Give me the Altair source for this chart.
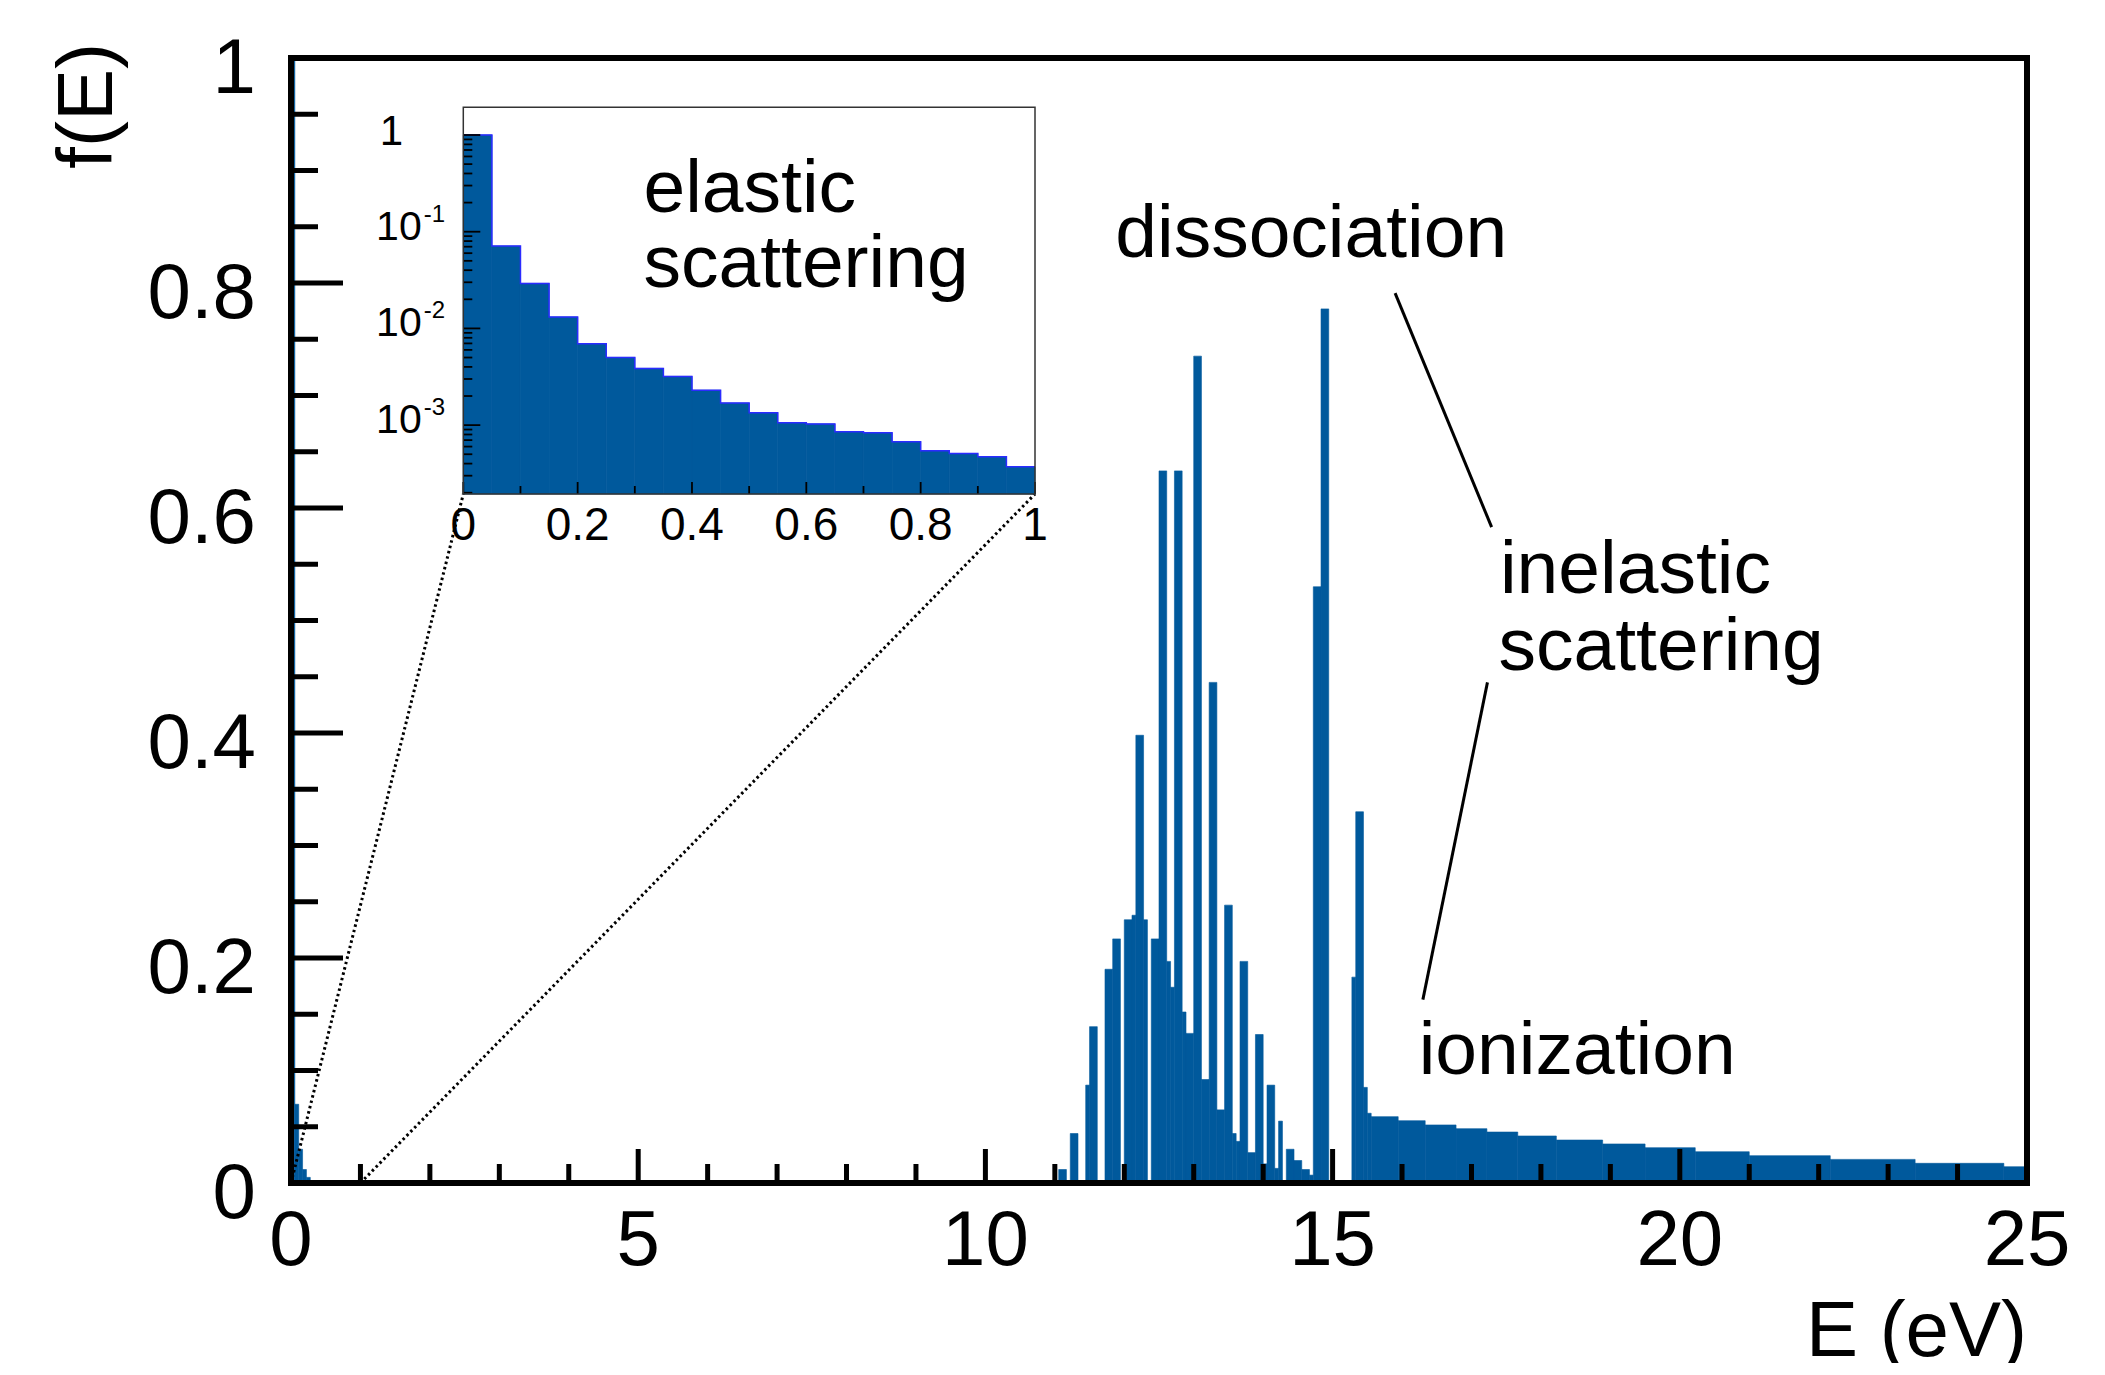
import altair as alt
import pandas as pd

BLUE = "#00599c"
STEP_BLUE = "#2b2bff"
FONT = "Liberation Sans"

# ---------------- data ----------------
# main histogram: 0-25 eV in 450 bins; runs of bins with equal value
N_BINS = 450
E_MAX = 25.0
seg_first_bin = [0, 1, 2, 3, 4, 5, 199, 202, 206, 207,
                 211, 213, 216, 218, 219, 221, 223, 225, 227, 228,
                 229, 231, 232, 234, 236, 238, 240, 242, 244, 245,
                 246, 248, 250, 252, 253, 255, 256, 258, 260, 262,
                 264, 265, 267, 275, 276, 278, 279, 280, 287, 294,
                 302, 310, 318, 328, 340, 351, 364, 378, 399, 421,
                 444]
seg_last_bin = [1, 2, 3, 4, 5, 8, 201, 204, 207, 209,
                213, 215, 218, 219, 221, 222, 225, 227, 228, 229,
                231, 232, 234, 236, 238, 240, 242, 244, 245, 246,
                248, 250, 252, 253, 255, 256, 257, 260, 262, 264,
                265, 267, 269, 276, 278, 279, 280, 287, 294, 302,
                310, 318, 328, 340, 351, 364, 378, 399, 421, 444,
                450]
seg_f = [1.0, 0.07, 0.03, 0.012, 0.005, 0.002, 0.012, 0.044, 0.087, 0.139,
         0.19, 0.217, 0.234, 0.238, 0.398, 0.234, 0.217, 0.633, 0.197, 0.174,
         0.633, 0.152, 0.133, 0.735, 0.092, 0.445, 0.065, 0.247, 0.044, 0.037,
         0.197, 0.027, 0.132, 0.017, 0.087, 0.013, 0.055, 0.030, 0.020, 0.012,
         0.007, 0.530, 0.777, 0.183, 0.33, 0.085, 0.062, 0.059, 0.0554, 0.0516,
         0.0483, 0.0453, 0.0418, 0.0382, 0.0347, 0.0314, 0.0278, 0.0243, 0.021, 0.0175,
         0.0145]

# inset histogram (0-1 eV, log scale)
inset_edges = [0.00, 0.05, 0.10, 0.15, 0.20, 0.25, 0.30, 0.35, 0.40, 0.45, 0.50,
               0.55, 0.60, 0.65, 0.70, 0.75, 0.80, 0.85, 0.90, 0.95, 1.00]
inset_f = [1.0, 0.071, 0.0292, 0.0131, 0.00693, 0.00501, 0.00386, 0.00319, 0.00229, 0.00169,
           0.00134, 0.00106, 0.00103, 0.000853, 0.000834, 0.000673, 0.000543, 0.000509, 0.00047, 0.000371]

# axis ticks / labels
x_major = [0, 5, 10, 15, 20, 25]
x_labels = ["0", "5", "10", "15", "20", "25"]
x_minor = [1, 2, 3, 4, 6, 7, 8, 9, 11, 12, 13, 14, 16, 17, 18, 19, 21, 22, 23, 24]
y_major = [0, 0.2, 0.4, 0.6, 0.8, 1.0]
y_labels = ["0", "0.2", "0.4", "0.6", "0.8", "1"]
y_minor = [0.05, 0.1, 0.15, 0.25, 0.3, 0.35, 0.45, 0.5, 0.55, 0.65, 0.7, 0.75, 0.85, 0.9, 0.95]
ix_major = [0, 0.2, 0.4, 0.6, 0.8, 1.0]
ix_labels = ["0", "0.2", "0.4", "0.6", "0.8", "1"]
ix_minor = [0.1, 0.3, 0.5, 0.7, 0.9]
iy_major = [1.0, 0.1, 0.01, 0.001]
iy_minor = [m * d for d in [1e-4, 1e-3, 1e-2, 1e-1] for m in range(2, 10)]
iy_exp_vals = [0.1, 0.01, 0.001]
iy_exp_text = ["-1", "-2", "-3"]

# annotations (main-plot data coordinates)
ann_text = ["dissociation", "inelastic", "scattering", "ionization"]
ann_E = [11.87, 17.41, 17.39, 16.24]
ann_f = [0.8234, 0.5242, 0.456, 0.0969]
lead_E1 = [15.90, 17.23]
lead_f1 = [0.791, 0.445]
lead_E2 = [17.29, 16.30]
lead_f2 = [0.583, 0.163]

# ---------------- layout ----------------
W, H = 1736, 1125
IX0, IX1 = 172.3, 744.0
IY_TOP, IY_BOT = 49.3, 436.0
INSET_YMIN, INSET_YMAX = 1.94e-4, 1.934

xm = alt.Scale(domain=[0, 25], nice=False, zero=False)
ym = alt.Scale(domain=[0, 1], nice=False, zero=False)
xi = alt.Scale(domain=[0, 1], range=[IX0, IX1], nice=False, zero=False)
yi = alt.Scale(type="log", domain=[INSET_YMIN, INSET_YMAX], range=[IY_BOT, IY_TOP], nice=False)

one = pd.DataFrame({"k": [0]})

main_df = pd.DataFrame({
    "lo": [b * E_MAX / N_BINS for b in seg_first_bin],
    "hi": [b * E_MAX / N_BINS for b in seg_last_bin],
    "f": seg_f,
})

bars = alt.Chart(main_df).mark_rect(fill=BLUE, stroke=BLUE, strokeWidth=0.6).encode(
    x=alt.X("lo:Q", scale=xm, axis=None),
    x2="hi:Q",
    y=alt.Y("f:Q", scale=ym, axis=None),
    y2=alt.datum(0),
)


def yticks(vals, length, scale, x0, width, color="black"):
    return alt.Chart(pd.DataFrame({"v": vals})).mark_rule(color=color, strokeWidth=width).encode(
        y=alt.Y("v:Q", scale=scale, axis=None), x=alt.value(x0), x2=alt.value(x0 + length))


def xticks(vals, length, scale, y0, width, color="black"):
    return alt.Chart(pd.DataFrame({"v": vals})).mark_rule(color=color, strokeWidth=width).encode(
        x=alt.X("v:Q", scale=scale, axis=None), y=alt.value(y0), y2=alt.value(y0 - length))


xlab_df = pd.DataFrame({"v": x_major, "t": x_labels})
xlabels = alt.Chart(xlab_df).mark_text(font=FONT, fontSize=78, align="center",
                                       baseline="alphabetic", color="black").encode(
    x=alt.X("v:Q", scale=xm, axis=None), y=alt.value(H + 82), text="t:N")
ylab_df = pd.DataFrame({"v": y_major, "t": y_labels})
ylabels = alt.Chart(ylab_df).mark_text(font=FONT, fontSize=78, align="right", dy=35,
                                       baseline="alphabetic", color="black").encode(
    y=alt.Y("v:Q", scale=ym, axis=None), x=alt.value(-35), text="t:N")

frame = alt.Chart(one).mark_rect(fill="transparent", stroke="black", strokeWidth=6).encode(
    x=alt.value(0), x2=alt.value(W), y=alt.value(0), y2=alt.value(H))

corner_f = 1 - IY_BOT / H
zoom_df = pd.DataFrame({"E1": [0.0, 1.0], "f1": [0.0, 0.0],
                        "E2": [IX0 / W * 25, IX1 / W * 25], "f2": [corner_f, corner_f]})
zoom_lines = alt.Chart(zoom_df).mark_rule(color="black", strokeWidth=3, strokeDash=[2.5, 3]).encode(
    x=alt.X("E1:Q", scale=xm, axis=None), y=alt.Y("f1:Q", scale=ym, axis=None),
    x2="E2:Q", y2="f2:Q")

lead_df = pd.DataFrame({"E1": lead_E1, "f1": lead_f1, "E2": lead_E2, "f2": lead_f2})
leaders = alt.Chart(lead_df).mark_rule(color="black", strokeWidth=3).encode(
    x=alt.X("E1:Q", scale=xm, axis=None), y=alt.Y("f1:Q", scale=ym, axis=None),
    x2="E2:Q", y2="f2:Q")

ann_df = pd.DataFrame({"t": ann_text, "E": ann_E, "f": ann_f})
annotations = alt.Chart(ann_df).mark_text(font=FONT, fontSize=75, align="left",
                                          baseline="alphabetic", color="black").encode(
    x=alt.X("E:Q", scale=xm, axis=None), y=alt.Y("f:Q", scale=ym, axis=None), text="t:N")

ytitle = alt.Chart(one).mark_text(text="f(E)", font=FONT, fontSize=78, angle=270, align="right",
                                  baseline="alphabetic", color="black").encode(
    x=alt.value(-179.4), y=alt.value(-15))
xtitle = alt.Chart(one).mark_text(text="E (eV)", font=FONT, fontSize=78, align="right",
                                  baseline="alphabetic", color="black").encode(
    x=alt.value(W), y=alt.value(1298))

main = alt.layer(
    bars, zoom_lines,
    yticks(y_major, 52, ym, 0, 5), yticks(y_minor, 27, ym, 0, 5),
    xticks(x_major, 34, xm, H, 5), xticks(x_minor, 19, xm, H, 5),
    frame, xlabels, ylabels, leaders, annotations, ytitle, xtitle,
)

# ---------------- inset ----------------
inset_df = pd.DataFrame({"lo": inset_edges[:-1], "hi": inset_edges[1:], "v": inset_f})
step_df = pd.DataFrame({"x": inset_edges, "v": inset_f + [inset_f[-1]]})

inset_bg = alt.Chart(one).mark_rect(fill="white").encode(
    x=alt.value(IX0), x2=alt.value(IX1), y=alt.value(IY_TOP), y2=alt.value(IY_BOT))
inset_bars = alt.Chart(inset_df).mark_rect(fill=BLUE, stroke=BLUE, strokeWidth=0.7).encode(
    x=alt.X("lo:Q", scale=xi, axis=None), x2="hi:Q",
    y=alt.Y("v:Q", scale=yi, axis=None), y2=alt.value(IY_BOT))
inset_step = alt.Chart(step_df).mark_line(interpolate="step-after", color=STEP_BLUE, strokeWidth=1.5).encode(
    x=alt.X("x:Q", scale=xi, axis=None), y=alt.Y("v:Q", scale=yi, axis=None))
inset_frame = alt.Chart(one).mark_rect(fill="transparent", stroke="#333333", strokeWidth=1.5).encode(
    x=alt.value(IX0), x2=alt.value(IX1), y=alt.value(IY_TOP), y2=alt.value(IY_BOT))

ixl_df = pd.DataFrame({"v": ix_major, "t": ix_labels})
inset_xlabels = alt.Chart(ixl_df).mark_text(font=FONT, fontSize=46, align="center",
                                            baseline="alphabetic", color="black").encode(
    x=alt.X("v:Q", scale=xi, axis=None), y=alt.value(IY_BOT + 46), text="t:N")

iy1_df = pd.DataFrame({"v": [1.0], "t": ["1"]})
inset_ylabel1 = alt.Chart(iy1_df).mark_text(font=FONT, fontSize=42, align="right", dy=10,
                                            baseline="alphabetic", color="black").encode(
    x=alt.value(112), y=alt.Y("v:Q", scale=yi, axis=None), text="t:N")
iy10_df = pd.DataFrame({"v": iy_exp_vals, "t": ["10"] * len(iy_exp_vals), "e": iy_exp_text})
inset_ylabel10 = alt.Chart(iy10_df).mark_text(font=FONT, fontSize=41, align="right", dy=8,
                                              baseline="alphabetic", color="black").encode(
    x=alt.value(130.7), y=alt.Y("v:Q", scale=yi, axis=None), text="t:N")
inset_yexp = alt.Chart(iy10_df).mark_text(font=FONT, fontSize=24, align="right", dy=-10,
                                          baseline="alphabetic", color="black").encode(
    x=alt.value(154), y=alt.Y("v:Q", scale=yi, axis=None), text="e:N")

el_df = pd.DataFrame({"t": ["elastic", "scattering"], "py": [153.7, 228.7]})
inset_ann = alt.Chart(el_df).mark_text(font=FONT, fontSize=75, align="left",
                                       baseline="alphabetic", color="black").encode(
    x=alt.value(352.5), y=alt.Y("py:Q", scale=None, axis=None), text="t:N")

inset = alt.layer(
    inset_bg, inset_bars, inset_step,
    xticks(ix_major, 12, xi, IY_BOT, 1.8), xticks(ix_minor, 8, xi, IY_BOT, 1.8),
    yticks(iy_major, 17, yi, IX0, 1.8), yticks(iy_minor, 9, yi, IX0, 1.8),
    inset_frame, inset_xlabels, inset_ylabel1, inset_ylabel10, inset_yexp, inset_ann,
)

chart = alt.layer(main, inset).resolve_scale(x="independent", y="independent").properties(
    width=W, height=H,
    padding={"left": 283, "top": 50, "right": 60, "bottom": 180},
    autosize=alt.AutoSizeParams(type="none"),
).configure_view(strokeWidth=0)

chart.save("out.html", embed_options={"renderer": "svg", "actions": False})
